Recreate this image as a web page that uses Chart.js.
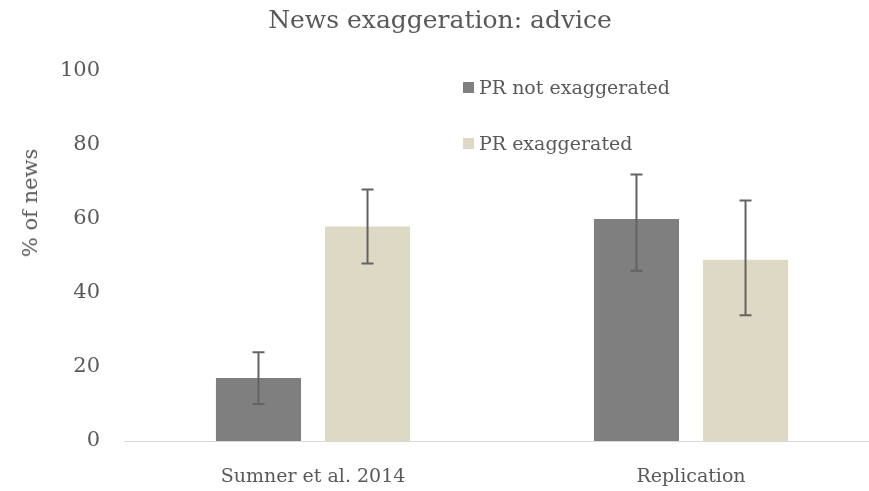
<!DOCTYPE html>
<html>
<head>
<meta charset="utf-8">
<script src="https://cdn.jsdelivr.net/npm/chart.js@4/dist/chart.umd.min.js"></script>
<style>
  html, body { margin: 0; padding: 0; background: #fff; overflow: hidden; }
  #wrap { position: relative; width: 882px; height: 491px; }
  .leg { position: absolute; font-family: "DejaVu Serif", serif; font-size: 19px; color: #595959; display: flex; align-items: center; }
  .leg span.box { display: inline-block; width: 11px; height: 11px; margin-right: 5px; }
  #ytitle { position: absolute; left: 30px; top: 203px; transform: translate(-50%, -50%) rotate(-90deg);
            font-family: "DejaVu Serif", serif; font-size: 21px; color: #595959; white-space: nowrap; }
</style>
</head>
<body>
<div id="wrap">
  <canvas id="chart" width="882" height="491"></canvas>
  <div class="leg" style="left:463px; top:76px;"><span class="box" style="background:#7f7f7f"></span>PR not exaggerated</div>
  <div class="leg" style="left:463px; top:132px;"><span class="box" style="background:#ddd9c4"></span>PR exaggerated</div>
  <div id="ytitle">% of news</div>
</div>
<script>
const categories = ['Sumner et al. 2014', 'Replication'];
const notExaggerated = [17, 60];
const notExaggeratedLow = [10, 46];
const notExaggeratedHigh = [24, 72];
const exaggerated = [58, 49];
const exaggeratedLow = [48, 34];
const exaggeratedHigh = [68, 65];
const yTicks = [0, 20, 40, 60, 80, 100];

const textColor = '#595959';
const serif = '"DejaVu Serif", serif';

// draws the error bars from the low/high arrays
const errorBars = {
    id: 'errorBars',
    afterDatasetsDraw(chart) {
        const ctx = chart.ctx;
        const y = chart.scales.y;
        chart.data.datasets.forEach((ds, i) => {
            const meta = chart.getDatasetMeta(i);
            meta.data.forEach((bar, j) => {
                const top = y.getPixelForValue(ds.errHigh[j]);
                const bot = y.getPixelForValue(ds.errLow[j]);
                ctx.save();
                ctx.strokeStyle = '#636363';
                ctx.lineWidth = 2;
                ctx.beginPath();
                ctx.moveTo(bar.x, top);
                ctx.lineTo(bar.x, bot);
                ctx.moveTo(bar.x - 6, top);
                ctx.lineTo(bar.x + 6, top);
                ctx.moveTo(bar.x - 6, bot);
                ctx.lineTo(bar.x + 6, bot);
                ctx.stroke();
                ctx.restore();
            });
        });
    }
};

new Chart(document.getElementById('chart'), {
    type: 'bar',
    data: {
        labels: categories,
        datasets: [
            {
                label: 'PR not exaggerated',
                data: notExaggerated,
                errLow: notExaggeratedLow,
                errHigh: notExaggeratedHigh,
                backgroundColor: '#7f7f7f',
                categoryPercentage: 0.577,
                barPercentage: 0.78
            },
            {
                label: 'PR exaggerated',
                data: exaggerated,
                errLow: exaggeratedLow,
                errHigh: exaggeratedHigh,
                backgroundColor: '#ddd9c4',
                categoryPercentage: 0.577,
                barPercentage: 0.78
            }
        ]
    },
    options: {
        responsive: false,
        animation: false,
        layout: { padding: { top: 6, right: 2, bottom: 0, left: 0 } },
        plugins: {
            legend: { display: false },
            tooltip: { enabled: false },
            title: {
                display: true,
                text: 'News exaggeration: advice',
                color: textColor,
                font: { family: serif, size: 25, weight: 'normal' },
                padding: { top: 0, bottom: 35 }
            }
        },
        scales: {
            x: {
                grid: { display: false },
                border: { color: '#d9d9d9', width: 1 },
                ticks: { color: textColor, font: { family: serif, size: 19 }, padding: 17 },
                afterFit: (axis) => { axis.height = 50; }
            },
            y: {
                min: 0,
                max: 100,
                afterBuildTicks: (axis) => { axis.ticks = yTicks.map(v => ({ value: v })); },
                grid: { display: false },
                border: { display: false },
                ticks: { color: textColor, font: { family: serif, size: 21 }, padding: 16 },
                afterFit: (axis) => { axis.width = 124; }
            }
        }
    },
    plugins: [errorBars]
});
</script>
</body>
</html>
